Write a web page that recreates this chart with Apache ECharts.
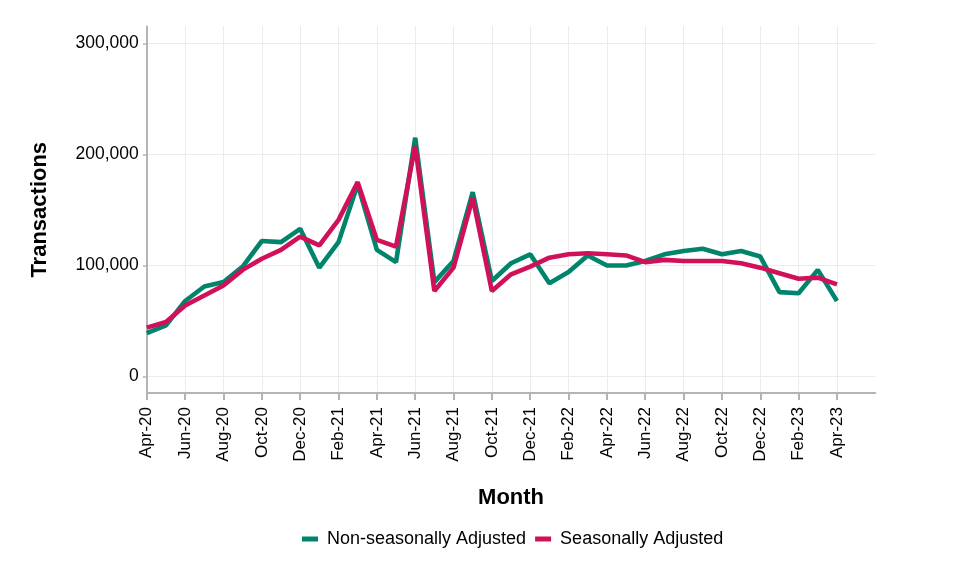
<!DOCTYPE html>
<html>
<head>
<meta charset="utf-8">
<script src="https://cdn.jsdelivr.net/npm/echarts@6/dist/echarts.min.js"></script>
<style>
html,body{margin:0;padding:0;background:#fff;}
#chart{width:979px;height:578px;}
</style>
</head>
<body>
<div id="chart"></div>
<script>
// Axis range months (data runs Apr-20 .. Apr-23; axis continues to Jun-23)
var months = ['Apr-20','May-20','Jun-20','Jul-20','Aug-20','Sep-20','Oct-20','Nov-20','Dec-20',
  'Jan-21','Feb-21','Mar-21','Apr-21','May-21','Jun-21','Jul-21','Aug-21','Sep-21','Oct-21','Nov-21','Dec-21',
  'Jan-22','Feb-22','Mar-22','Apr-22','May-22','Jun-22','Jul-22','Aug-22','Sep-22','Oct-22','Nov-22','Dec-22',
  'Jan-23','Feb-23','Mar-23','Apr-23','May-23','Jun-23'];
var nonSeasonal = [39000,46000,68000,81000,85000,99000,122000,121000,133000,
  98000,121000,173000,114000,103000,215000,85000,104000,166000,86000,102000,110000,
  84000,94000,109000,100000,100000,104000,110000,113000,115000,110000,113000,108000,
  76000,75000,96000,68000];
var seasonal = [44000,49000,64000,73000,82000,96000,106000,114000,126000,
  118000,141000,175000,123000,117000,208000,77000,98000,161000,77000,92000,99000,
  107000,110000,111000,110000,109000,103000,105000,104000,104000,104000,102000,98000,
  93000,88000,89000,83000];
var yTicks = [0,100000,200000,300000];
var seriesNames = ['Non-seasonally Adjusted','Seasonally Adjusted'];

var FONT = "'Liberation Sans', Arial, sans-serif";
var GREEN = '#00846b', RED = '#d1105a';
var AXIS = '#b4b4b4', GRID = '#ebebeb';
var lastTick = nonSeasonal.length - 1;
function every2(i){ return i % 2 === 0 && i <= lastTick; }
function fmt(v){ return String(v).replace(/\B(?=(\d{3})+(?!\d))/g, ','); }

var L = 146.8, R = 979 - 875.3;
var chart = echarts.init(document.getElementById('chart'), null, {renderer:'canvas'});
chart.setOption({
  animation: false,
  backgroundColor: '#fff',
  textStyle: {fontFamily: FONT},
  grid: [
    {left: L, right: R, top: 26.5, bottom: 578 - 393, containLabel: false},
    {left: L, right: R, top: 43.3, bottom: 578 - 376.5, containLabel: false}
  ],
  legend: {
    data: seriesNames,
    bottom: 25,
    left: 297,
    icon: 'rect',
    itemWidth: 16,
    itemHeight: 5,
    itemGap: 9,
    textStyle: {fontFamily: FONT, fontSize: 18, color: '#000', padding: [0,0,0,4]}
  },
  xAxis: [
    {
      type: 'category', gridIndex: 0, data: months, boundaryGap: false,
      name: 'Month', nameLocation: 'middle', nameGap: 94,
      nameTextStyle: {fontFamily: FONT, fontSize: 22, fontWeight: 'bold', color: '#000'},
      axisLine: {show: true, onZero: false, lineStyle: {color: AXIS, width: 2}},
      axisTick: {show: true, interval: function(i){return every2(i);}, length: 7, lineStyle: {color: AXIS, width: 2}},
      axisLabel: {interval: function(i){return every2(i);}, rotate: 90, margin: 14, fontFamily: FONT, fontSize: 17, color: '#000'},
      splitLine: {show: true, interval: function(i){return every2(i);}, lineStyle: {color: GRID, width: 1}}
    },
    {
      type: 'category', gridIndex: 1, data: months, boundaryGap: false, show: false
    }
  ],
  yAxis: [
    {
      type: 'value', gridIndex: 0, min: 0, max: 1,
      name: 'Transactions', nameLocation: 'middle', nameGap: 96, nameRotate: 90,
      nameTextStyle: {fontFamily: FONT, fontSize: 22, fontWeight: 'bold', color: '#000'},
      axisLine: {show: true, lineStyle: {color: AXIS, width: 2}},
      axisTick: {show: false}, axisLabel: {show: false}, splitLine: {show: false}
    },
    {
      type: 'value', gridIndex: 1, min: yTicks[0], max: yTicks[yTicks.length-1], interval: yTicks[1] - yTicks[0],
      axisLine: {show: false},
      axisTick: {show: true, length: 4, lineStyle: {color: AXIS, width: 1.5}},
      axisLabel: {margin: 8, fontFamily: FONT, fontSize: 17.5, color: '#000', formatter: fmt},
      splitLine: {show: true, lineStyle: {color: GRID, width: 1}}
    }
  ],
  series: [
    {
      name: seriesNames[0], type: 'line', xAxisIndex: 1, yAxisIndex: 1,
      data: nonSeasonal, showSymbol: false, symbol: 'none',
      lineStyle: {color: GREEN, width: 4.6}, itemStyle: {color: GREEN}, z: 2
    },
    {
      name: seriesNames[1], type: 'line', xAxisIndex: 1, yAxisIndex: 1,
      data: seasonal, showSymbol: false, symbol: 'none',
      lineStyle: {color: RED, width: 4.6}, itemStyle: {color: RED}, z: 3
    }
  ]
});
</script>
</body>
</html>
